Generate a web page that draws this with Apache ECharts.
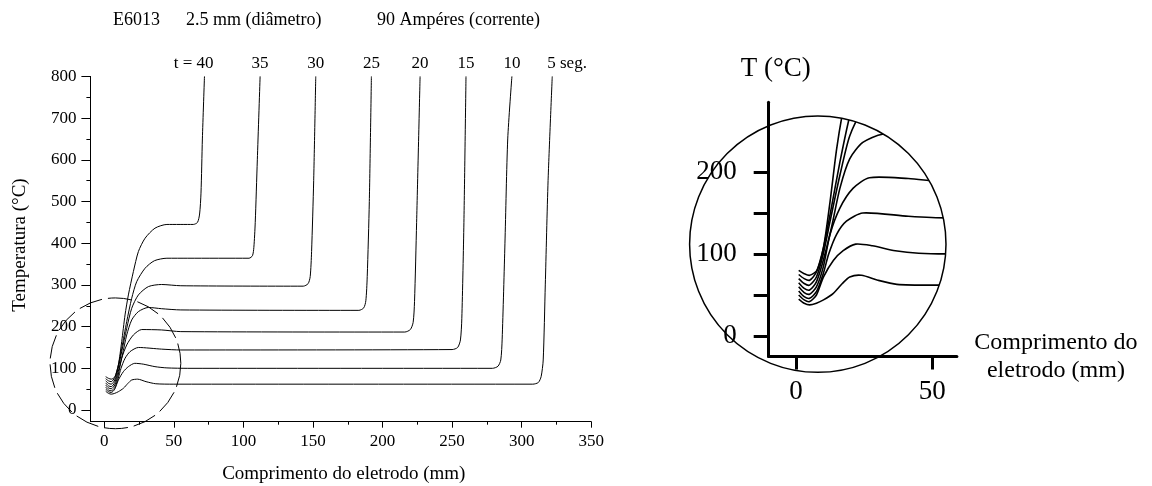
<!DOCTYPE html>
<html>
<head>
<meta charset="utf-8">
<script src="https://cdn.jsdelivr.net/npm/echarts@6.0.0/dist/echarts.min.js"></script>
<style>
  html, body { margin: 0; background: #fff; }
  #chart { width: 1152px; height: 486px; }
</style>
</head>
<body>
<div id="chart"></div>
<script>
// labels written above the top of each curve (time in seconds)
const curveNames = ['t = 40', '35', '30', '25', '20', '15', '10', '5 seg.'];

// [comprimento (mm), temperatura (°C)]
const curveT40 = [[1, 80], [3, 76], [5, 74], [7.7, 80], [10.1, 108], [12.5, 164], [14.9, 228], [17.3, 276], [20.9, 332], [24.5, 380], [29.3, 412], [36.4, 436], [45, 445], [64, 445], [67, 450], [68.5, 470], [69.5, 520], [70.5, 650], [72, 800]];
const curveT35 = [[1, 75], [3, 70], [5, 68], [7.5, 78], [10.1, 108], [12.5, 148], [16.1, 212], [19.7, 268], [23.3, 308], [29.3, 340], [36, 358], [45, 364], [60, 364], [104, 364], [106.5, 370], [107.5, 390], [108.5, 450], [110, 600], [112, 800]];
const curveT30 = [[1, 70], [3, 64], [5, 62], [7.5, 72], [10, 100], [12.5, 140], [16.1, 196], [19.7, 244], [24.5, 276], [31.7, 296], [41.2, 301], [55, 298], [143, 297], [146.5, 303], [148, 320], [149, 380], [150.5, 550], [152, 800]];
const curveT25 = [[1, 65], [3, 58], [5, 56], [7.5, 66], [10, 92], [13, 132], [16.1, 180], [19.7, 216], [24.5, 236], [31.7, 246], [41, 243], [55, 240], [183, 239], [186.5, 245], [188, 262], [189, 320], [190.5, 500], [192, 800]];
const curveT20 = [[1, 60], [3, 53], [5, 51], [7.5, 60], [10, 84], [12.5, 124], [16.1, 156], [20.9, 180], [26.9, 193], [41.2, 192], [55, 188], [216, 187], [220, 193], [222, 210], [223, 260], [224.5, 450], [227, 800]];
const curveT15 = [[1, 55], [3, 48], [5, 46], [7.5, 54], [10, 76], [12, 100], [14.9, 124], [18.5, 140], [24.5, 150], [41.2, 146], [55, 144], [250, 145], [254, 150], [256, 168], [257, 220], [258.5, 450], [260, 800]];
const curveT10 = [[1, 50], [3, 44], [5, 42], [7.5, 50], [10.1, 72], [13.7, 92], [17.3, 104], [21.9, 112], [28, 110], [36.4, 104], [45, 101], [60, 100], [279, 100], [283, 105], [285, 120], [286, 170], [288, 400], [290, 650], [293, 800]];
const curveT5 = [[1, 45], [3, 40], [5, 38], [7.5, 40], [10.1, 44], [13.7, 52], [17, 64], [19.7, 72], [24, 74], [30, 68], [37, 63], [50, 62], [308, 62], [312, 66], [314, 80], [315.5, 120], [317, 300], [319, 550], [322, 800]];
const curves = [curveT40, curveT35, curveT30, curveT25, curveT20, curveT15, curveT10, curveT5];

// tick values
const xMajorTicks = [0, 50, 100, 150, 200, 250, 300, 350];
const xMinorTicks = [25, 75, 125, 175, 225, 275, 325];
const yMajorTicks = [0, 100, 200, 300, 400, 500, 600, 700, 800];
const yMinorTicks = [50, 150, 250, 350, 450, 550, 650, 750];
const insetXTicks = [0, 50];
const insetYTicks = [0, 50, 100, 150, 200];
const insetYLabels = [0, 100, 200];

// zoomed region: centre (mm, °C) and radius (mm)
const zoomCenter = [8, 112];
const zoomRadius = 47;

const serif = 'Liberation Serif';
const black = '#000';

const chart = echarts.init(document.getElementById('chart'));

const lineSeries = curves.map((pts, i) => ({
  type: 'line',
  name: curveNames[i],
  xAxisIndex: 0,
  yAxisIndex: 0,
  smooth: 0.25,
  showSymbol: true,
  showAllSymbol: true,
  symbolSize: 0,
  lineStyle: { color: black, width: 1 },
  itemStyle: { color: black },
  data: pts.map((p, j) => j < pts.length - 1 ? p : {
    value: p,
    label: {
      show: true,
      position: 'top',
      distance: 4,
      formatter: curveNames[i],
      align: i === 0 ? 'right' : (i === curves.length - 1 ? 'left' : 'center'),
      offset: i === 0 ? [9, 0] : (i === curves.length - 1 ? [-5, 0] : [0, 0]),
      fontFamily: serif,
      fontSize: 17,
      color: black
    }
  })
}));

const circleSeries = (xi, yi, style) => ({
  type: 'custom',
  xAxisIndex: xi,
  yAxisIndex: yi,
  silent: true,
  data: [zoomCenter],
  renderItem: (params, api) => {
    const c = api.coord([api.value(0), api.value(1)]);
    const r = api.size([zoomRadius, 0])[0];
    return {
      type: 'circle',
      shape: { cx: c[0], cy: c[1], r: r },
      style: Object.assign({ fill: null, stroke: black }, style)
    };
  }
});

// the magnified view: same curves, cut off at the circle
const insetSeries = {
  type: 'custom',
  xAxisIndex: 2,
  yAxisIndex: 2,
  silent: true,
  data: curves.map(() => zoomCenter),
  renderItem: (params, api) => {
    const pts = curves[params.dataIndex].map(p => api.coord(p));
    const c = api.coord(zoomCenter);
    const r = api.size([zoomRadius, 0])[0];
    return {
      type: 'polyline',
      shape: { points: pts, smooth: 0.25 },
      style: { fill: null, stroke: black, lineWidth: 1.6 },
      clipPath: { type: 'circle', shape: { cx: c[0], cy: c[1], r: r } }
    };
  }
};

const textBase = { fontFamily: serif, color: black, fontWeight: 'normal', fontSize: 18 };

const option = {
  animation: false,
  backgroundColor: '#fff',
  title: [
    { text: 'E6013', left: 108, top: 6, textStyle: textBase },
    { text: '2.5 mm (diâmetro)', left: 181, top: 6, textStyle: textBase },
    { text: '90 Ampéres (corrente)', left: 372, top: 6, textStyle: textBase }
  ],
  grid: [
    { left: 90.4, top: 76.4, width: 500.8, height: 345.3, outerBoundsMode: 'none' },
    { left: 768.7, top: 102.3, width: 188.2, height: 254.2, outerBoundsMode: 'none' }
  ],
  xAxis: [
    {
      type: 'value', gridIndex: 0, position: 'bottom', min: -10, max: 350,
      axisLine: { onZero: false, lineStyle: { color: black, width: 1 } },
      axisTick: { customValues: xMajorTicks, length: 6, lineStyle: { color: black } },
      axisLabel: { customValues: xMajorTicks, margin: 11, fontSize: 17, fontFamily: serif, color: black },
      splitLine: { show: false },
      name: 'Comprimento do eletrodo (mm)',
      nameLocation: 'middle',
      nameGap: 43,
      nameTextStyle: { fontSize: 19, fontFamily: serif, color: black, padding: [0, 0, 0, 6] }
    },
    {
      type: 'value', gridIndex: 0, position: 'bottom', min: -10, max: 350,
      axisLine: { show: false, onZero: false },
      axisTick: { customValues: xMinorTicks, length: 3, lineStyle: { color: black } },
      axisLabel: { show: false },
      splitLine: { show: false }
    },
    {
      type: 'value', gridIndex: 1, position: 'bottom', min: -10, max: 59,
      axisLine: { onZero: false, lineStyle: { color: black, width: 3 } },
      axisTick: { customValues: insetXTicks, length: 13, lineStyle: { color: black, width: 3 } },
      axisLabel: { customValues: insetXTicks, margin: 22, fontSize: 27, fontFamily: serif, color: black },
      splitLine: { show: false },
      name: 'Comprimento do\neletrodo (mm)',
      nameLocation: 'end',
      nameGap: 99,
      nameTextStyle: { fontSize: 24, lineHeight: 28, fontFamily: serif, color: black, align: 'center', padding: [0, 0, 22, 0] }
    }
  ],
  yAxis: [
    {
      type: 'value', gridIndex: 0, position: 'left', min: -28, max: 800,
      axisLine: { onZero: false, lineStyle: { color: black, width: 1 } },
      axisTick: { customValues: yMajorTicks, length: 9, lineStyle: { color: black } },
      axisLabel: { customValues: yMajorTicks, margin: 14, fontSize: 17, fontFamily: serif, color: black },
      splitLine: { show: false },
      name: 'Temperatura (°C)',
      nameLocation: 'middle',
      nameRotate: 90,
      nameGap: 61,
      nameTextStyle: { fontSize: 19, fontFamily: serif, color: black, padding: [0, 0, 0, 8] }
    },
    {
      type: 'value', gridIndex: 0, position: 'left', min: -28, max: 800,
      axisLine: { show: false, onZero: false },
      axisTick: { customValues: yMinorTicks, length: 4, lineStyle: { color: black } },
      axisLabel: { show: false },
      splitLine: { show: false }
    },
    {
      type: 'value', gridIndex: 1, position: 'left', min: -25, max: 285,
      axisLine: { onZero: false, lineStyle: { color: black, width: 3 } },
      axisTick: { customValues: insetYTicks, length: 15, lineStyle: { color: black, width: 3 } },
      axisLabel: { customValues: insetYLabels, margin: 32, fontSize: 27, fontFamily: serif, color: black },
      splitLine: { show: false },
      name: 'T (°C)',
      nameLocation: 'end',
      nameGap: 20,
      nameTextStyle: { fontSize: 27, fontFamily: serif, color: black, padding: [0, 0, 0, 14] }
    }
  ],
  series: lineSeries.concat([
    circleSeries(0, 0, { lineWidth: 1, lineDash: [24, 6] }),
    circleSeries(2, 2, { lineWidth: 1.5 }),
    insetSeries
  ])
};

chart.setOption(option);
</script>
</body>
</html>
